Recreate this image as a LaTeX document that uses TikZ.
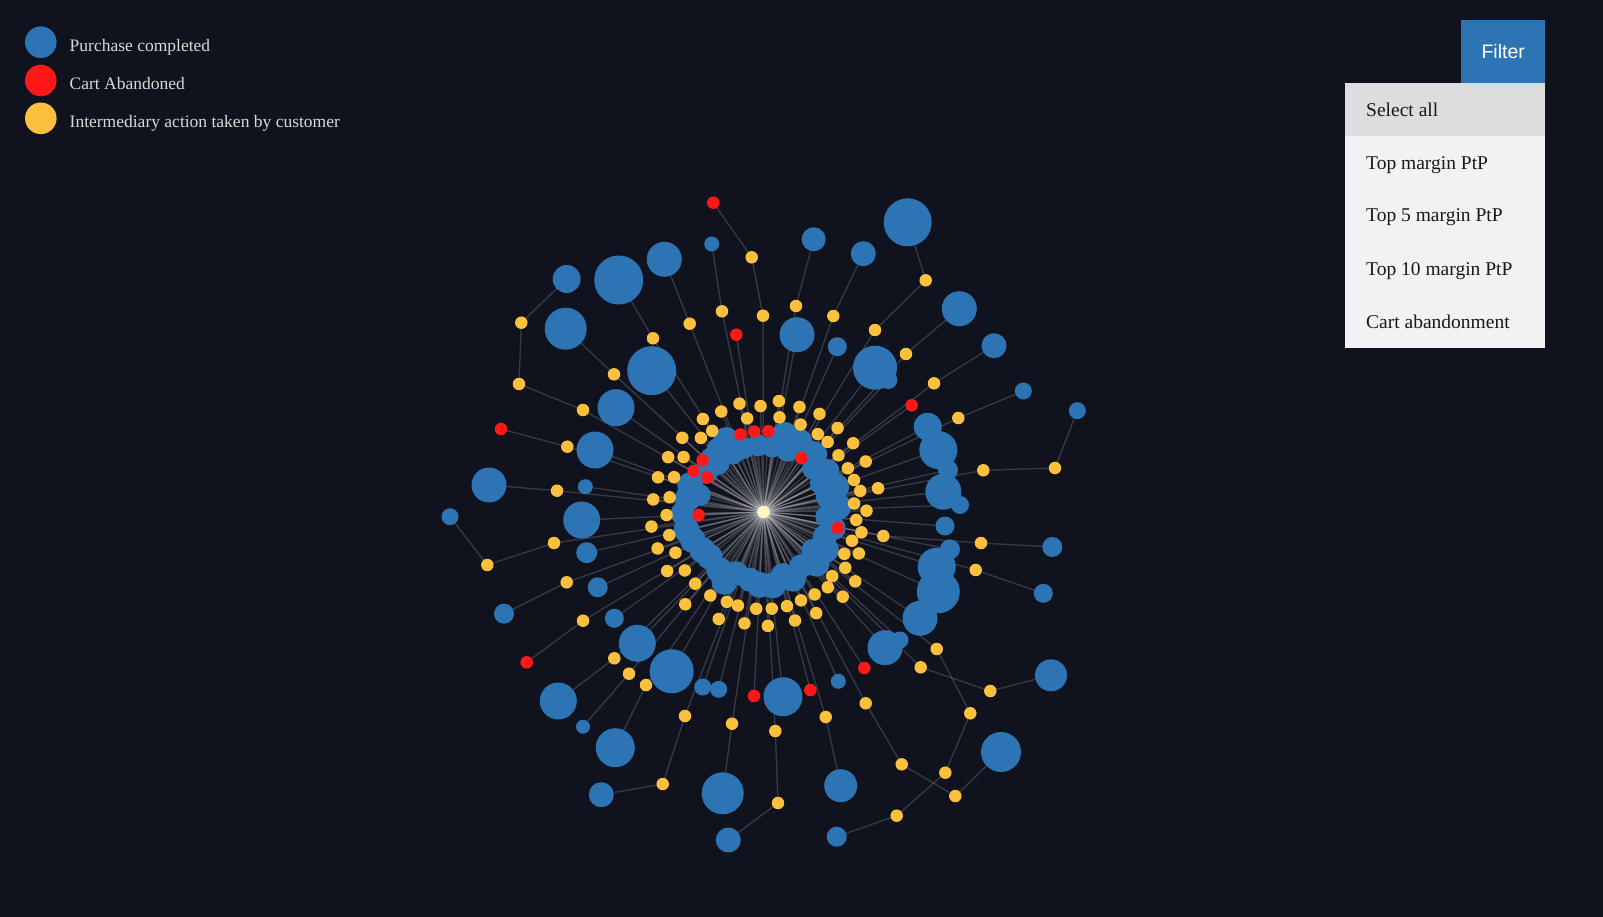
\documentclass[tikz,border=0pt]{standalone}
\usepackage{fontspec}
\setmainfont{Liberation Serif}
\newfontfamily\btnfont{Liberation Sans}
\usetikzlibrary{positioning}

\definecolor{pagebg}{RGB}{16,19,30}
\definecolor{buyblue}{RGB}{45,116,180}
\definecolor{dropred}{RGB}{255,24,24}
\definecolor{actyellow}{RGB}{252,192,60}
\definecolor{hubcol}{RGB}{255,247,200}
\definecolor{legtxt}{RGB}{216,216,216}
\definecolor{menubg}{RGB}{242,242,242}
\definecolor{menusel}{RGB}{221,221,221}

\pgfdeclarelayer{back}
\pgfdeclarelayer{wires}
\pgfsetlayers{back,wires,main}

\tikzset{
  dot/.style={circle, inner sep=0pt, outer sep=0pt, minimum size=#1},
  buy/.style={dot=#1, fill=buyblue},
  drop/.style={dot=12.5pt, fill=dropred},
  act/.style={dot=12.5pt, fill=actyellow},
  link/.style={draw=white, draw opacity=0.17, line width=1.3pt},
  legdot/.style={dot=31.6pt},
  legtext/.style={anchor=base west, inner sep=0pt, text=legtxt, font=\fontsize{17.5}{20}\selectfont},
  menurow/.style={shape=rectangle, anchor=north west, inner sep=0pt, minimum width=200pt, minimum height=53.3pt},
  menutext/.style={anchor=base west, inner sep=0pt, text=black!90, font=\fontsize{19.5}{22}\selectfont}
}

\begin{document}
\begin{tikzpicture}[x=1pt, y=-1pt]
	\useasboundingbox (0,0) rectangle (1603,917);
	\begin{pgfonlayer}{back}
		\fill[pagebg] (0,0) rectangle (1603,917);
	\end{pgfonlayer}

	% Legend:
	\node[legdot, fill=buyblue] (k1) at (40.8,42.2){};
	\node[legdot, fill=dropred] (k2) at (40.8,80.5){};
	\node[legdot, fill=actyellow] (k3) at (40.8,118.3){};
	\node[legtext] (t1) at (69.5,51.7){Purchase completed};
	\node[legtext] (t2) at (69.5,89.4){Cart Abandoned};
	\node[legtext] (t3) at (69.5,127.6){Intermediary action taken by customer};

	% Filter button and menu:
	\node[shape=rectangle, anchor=north west, fill=buyblue, minimum width=84pt, minimum height=62.7pt, inner sep=0pt, text=white, font=\btnfont\fontsize{19.5}{22}\selectfont] (filter) at (1461,20){Filter};
	\node[menurow, fill=menusel] (m1) at (1345,82.7){};
	\node[menurow, fill=menubg, minimum height=211.3pt] (m2) at (1345,136){};
	\node[menutext] (s1) at (1366,116.3){Select all};
	\node[menutext] (s2) at (1366,169.5){Top margin PtP};
	\node[menutext] (s3) at (1366,222){Top 5 margin PtP};
	\node[menutext] (s4) at (1366,275.2){Top 10 margin PtP};
	\node[menutext] (s5) at (1366,328.4){Cart abandonment};

	% Hub and inner rings:
	\node[dot=13pt, fill=hubcol] (hub) at (763.5,512){};
	\foreach \a/\r/\d [count=\i] in {-125.4/76/26, -117.4/81/26, -133.2/67/24, -117.6/66/22, -107.4/67/22, -94.9/67/22, -82.4/66/22, -74.7/80/26, -68.6/67/24, -62.9/79/26, -48.7/77/26, -41.5/66/22, -32.7/76/24, -26.4/64/22, -19.2/77/26, -13.4/66/24, -4.1/75/26, 4.3/63/22, 13/72/24, 22/66/24, 31.2/73/26, 37.6/62/22, 44.3/74/26, 55.4/66/24, 66.1/73/26, 72.9/66/24, 82.7/74/26, 93.1/73/26, 101.6/69/24, 114/67/24, 119.2/80/26, 127.2/73/26, 140.4/70/26, 147.9/72/26, 158.4/76/26, 166.9/79/26, 179/81/24, -169.8/77/26, -165.1/66/22, -159.8/78/26, -134.3/73/26, -145/70/24}
		\node[buy=\d pt] (ib\i) at ([shift={(\a:\r)}]hub.center){};
	\foreach \a/\r [count=\i] in {-99.9/95, -80.4/96, -67/95, -55.1/95, -47.5/95, -37.1/94, -27.4/95, -19.5/96, -12.3/99, -5.4/91, 4.9/93, 11.7/100, 18/93, 27.4/91, 34.3/99, 43/94, 49.5/99, 58.2/97, 67/96, 76/97, 85.1/97, 94.3/97, 105.3/97, 112.2/97, 122.5/99, 133.6/99, 143.4/98, 155.2/97, 166.2/97, 178.2/97, -171.1/95, -158.7/96, -145.5/97, -130.2/97, -122.3/96}
		\node[act] (iy\i) at ([shift={(\a:\r)}]hub.center){};
	\foreach \a/\r [count=\i] in {-102.5/111, -91.6/106, -82.1/112, -71.1/111, -60.3/113, -48.6/112, -37.5/113, -26.3/114, -11.7/117, -0.7/103, 23.5/104, 37.1/115, 46.9/116, 62.5/114, 73.8/113, 87.8/114, 99.7/113, 112.7/116, 130.3/121, 148.5/113, 161/112, 172.6/113, -173.5/111, -161.8/111, -150.1/110, -137.6/110, -123.1/111, -112.8/109}
		\node[act] (oy\i) at ([shift={(\a:\r)}]hub.center){};
	\foreach \a/\r [count=\i] in {-106.6/81, -96.6/81, -86.5/81, -54.9/66, -139.6/80, -149.6/81, -148.4/66, 177.4/65, 12.2/76}
		\node[drop] (ir\i) at ([shift={(\a:\r)}]hub.center){};

	% Outer nodes:
	\foreach \n/\x/\y/\d in {b1/711.7/244/15, b2/566.7/279/28, b3/618.7/280/49, b4/664.3/259.3/35, b5/565.7/328.7/42, b6/651.7/370.7/49, b7/616/407.7/37, b8/595/450/37, b9/489/485/35, b10/585.3/486.7/15, b11/813.7/239.3/24, b12/863.3/253.7/25, b13/907.7/222.3/48, b14/797/334.7/35, b15/837.3/346.7/19, b16/875/367.7/44, b17/888.3/380/18, b18/959.3/308.7/35, b19/994/345.7/25, b20/1023.3/391/17, b21/1077.3/410.7/17, b22/927.7/426.7/28, b23/938.3/450/38, b24/948/470/20, b25/943.3/491.7/36, b26/960/505/18, b27/945/526/19, b28/950/549.3/20, b29/936.7/566.7/38, b30/938.3/591.7/43, b31/920/618.3/35, b32/885/647.7/35, b33/900/640/17, b34/1052.3/547/20, b35/1043.3/593.3/19, b36/1051/675.3/32, b37/1001/752/40, b38/838.3/681.3/15, b39/783/696.7/39, b40/840.7/785.7/33, b41/836.7/836.7/20, b42/728.3/840/25, b43/722.7/793.3/42, b44/601.3/794.7/25, b45/615.3/747.7/39, b46/583/726.7/14, b47/558.3/701/37, b48/637.3/643.3/37, b49/671.7/671.3/44, b50/702.7/687/17, b51/718.7/689.3/17, b52/614.3/618.3/19, b53/504/613.7/20, b54/597.7/587.3/20, b55/586.7/552.7/21, b56/581.7/520/37, b57/450/516.7/17}
		\node[buy=\d pt] (\n) at (\x,\y){};
	\foreach \n/\x/\y in {y1/751.7/257.3, y2/763/315.7, y3/722/311.3, y4/689.7/323.7, y5/653/338.3, y6/521.3/322.7, y7/519/384, y8/583/410, y9/614/374.3, y10/567.3/446.7, y11/557/490.7, y12/796/306, y13/833.3/316, y14/925.7/280.3, y15/875/330, y16/906/354, y17/934/383.3, y18/958.3/418, y19/1055/468, y20/983.3/470.3, y21/883.3/536, y22/981/543, y23/975.7/570, y24/990.3/691, y25/920.7/667.3, y26/936.7/649, y27/970.3/713.3, y28/945.3/772.7, y29/896.7/815.7, y30/865.7/703.3, y31/901.7/764.3, y32/955.3/796, y33/825.7/717, y34/775.3/731, y35/778/803, y36/732/723.7, y37/685/716, y38/662.7/784, y39/646/685, y40/629/673.7, y41/614.3/658.3, y42/583/620.7, y43/566.7/582.3, y44/554/543, y45/487.3/565}
		\node[act] (\n) at (\x,\y){};
	\foreach \n/\x/\y in {r1/713.3/202.7, r2/501/429, r3/736.3/334.7, r4/911.7/405.3, r5/526.7/662.3, r6/754/696, r7/810.3/690, r8/864.3/668}
		\node[drop] (\n) at (\x,\y){};

	% Links:
	\begin{pgfonlayer}{wires}
		\foreach \i in {1,...,42} \draw[link] (hub) -- (ib\i);
		\foreach \i in {1,...,35} \draw[link] (hub) -- (iy\i);
		\foreach \i in {1,...,28} \draw[link] (hub) -- (oy\i);
		\foreach \i in {1,...,9} \draw[link] (hub) -- (ir\i);
		\foreach \a/\b in {hub/y2, y2/y1, y1/r1, hub/y3, y3/b1, hub/y4, y4/b4, hub/y5, y5/b3, hub/y8, y8/y7, y7/y6, y6/b2, hub/y9, y9/b5, hub/r3, hub/b6, hub/b7, hub/b8, hub/b10, hub/y10, y10/r2, hub/y11, y11/b9, hub/y12, y12/b11, hub/y13, y13/b12, hub/y15, y15/y14, y14/b13, hub/b14, hub/b15, hub/b16, hub/b17, hub/y16, y16/b18, hub/y17, y17/b19, hub/r4, hub/y18, y18/b20, hub/y20, y20/y19, y19/b21, hub/y21, y21/y22, y22/b34, hub/y23, y23/b35, hub/y25, y25/y24, y24/b36, hub/y26, y26/y27, y27/y28, y28/y29, y29/b41, hub/y30, y30/y31, y31/y32, y32/b37, hub/y33, y33/b40, hub/y34, y34/y35, y35/b42, hub/y36, y36/b43, hub/y37, y37/y38, y38/b44, hub/y39, y39/b45, hub/y40, y40/b46, hub/y41, y41/b47, hub/y42, y42/r5, hub/y43, y43/b53, hub/y44, y44/y45, y45/b57, hub/b38, hub/b39, hub/r6, hub/r7, hub/r8, hub/b48, hub/b49, hub/b50, hub/b51, hub/b52, hub/b54, hub/b55, hub/b56}
			\draw[link] (\a) -- (\b);
		\foreach \i in {22,...,33} \draw[link] (hub) -- (b\i);
	\end{pgfonlayer}
\end{tikzpicture}
\end{document}
